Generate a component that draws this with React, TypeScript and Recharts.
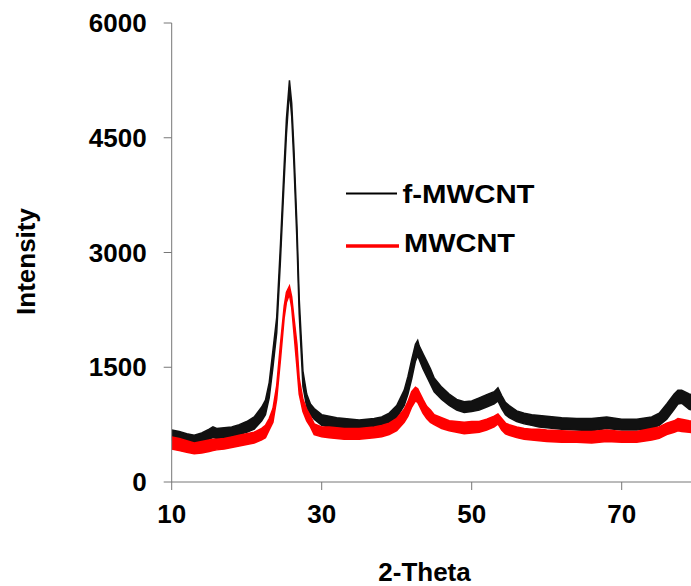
import React from 'react';
import { ComposedChart, Area, XAxis, YAxis, Label } from 'recharts';

// 2-theta positions (deg)
const twoTheta = [
  10, 11, 12, 13, 14, 15, 15.5, 16, 17, 18, 19, 20, 21, 22, 22.5, 23, 23.5, 24, 24.5, 25,
  25.3, 25.7, 26, 26.3, 26.7, 27, 27.5, 28, 28.5, 29, 30, 31, 32, 33, 34, 35, 36, 37, 38, 39,
  40, 41, 41.5, 42, 42.5, 42.8, 43, 43.5, 44, 44.5, 45, 46, 47, 48, 49, 50, 51, 52, 53, 53.5,
  54, 54.5, 55, 56, 57, 58, 59, 60, 62, 64, 66, 68, 70, 72, 74, 75, 76, 77, 77.5, 78, 79, 80,
];

// f-MWCNT: lower / upper edge of the noisy trace
const fLow = [
  550, 530, 510, 510, 530, 560, 580, 570, 580, 590, 620, 650, 690, 800, 880, 1100, 1500, 1950, 2900, 3950,
  4550, 5120, 4780, 4150, 3150, 2200, 1250, 980, 880, 820, 740, 720, 700, 690, 690, 680, 690, 700, 720, 770,
  840, 1000, 1150, 1350, 1580, 1650, 1600, 1480, 1380, 1280, 1180, 1080, 1000, 940, 910, 920, 940, 980, 1020, 1060,
  960, 880, 840, 790, 760, 740, 720, 710, 690, 680, 670, 700, 680, 680, 700, 740, 820, 950, 1020, 1030, 950, 930,
];
const fHigh = [
  680, 660, 630, 610, 640, 690, 720, 700, 710, 720, 750, 790, 850, 980, 1070, 1300, 1720, 2150, 3100, 4150,
  4750, 5250, 4950, 4350, 3350, 2400, 1450, 1150, 1020, 960, 880, 860, 840, 830, 820, 810, 820, 830, 850, 900,
  1000, 1200, 1380, 1600, 1800, 1850, 1780, 1680, 1580, 1480, 1360, 1240, 1150, 1080, 1050, 1060, 1100, 1140, 1180, 1230,
  1130, 1040, 1000, 930, 900, 880, 870, 860, 840, 830, 830, 850, 820, 820, 850, 900, 1020, 1150, 1200, 1200, 1150, 1130,
];

// MWCNT: lower / upper edge of the noisy trace
const mLow = [
  430, 410, 390, 370, 380, 400, 410, 420, 430, 450, 470, 490, 510, 550, 580, 680, 780, 1080, 1600, 2150,
  2350, 2450, 2280, 1950, 1500, 1150, 920, 800, 720, 620, 590, 580, 570, 560, 560, 560, 570, 580, 590, 620,
  670, 780, 860, 980, 1060, 1040, 1000, 900, 830, 780, 750, 700, 670, 650, 630, 640, 650, 680, 720, 760,
  680, 630, 610, 580, 560, 550, 540, 530, 520, 520, 510, 530, 520, 520, 550, 570, 620, 650, 670, 660, 650, 640,
];
const mHigh = [
  590, 570, 540, 510, 530, 550, 560, 560, 570, 590, 610, 630, 650, 700, 740, 830, 960, 1260, 1800, 2300,
  2480, 2560, 2420, 2150, 1800, 1350, 1080, 950, 860, 760, 720, 720, 710, 700, 700, 700, 710, 720, 740, 770,
  830, 950, 1050, 1180, 1240, 1220, 1180, 1080, 990, 940, 880, 840, 800, 790, 780, 790, 790, 820, 860, 890,
  830, 770, 750, 720, 700, 690, 690, 680, 670, 660, 660, 680, 660, 660, 700, 720, 770, 800, 830, 820, 800, 790,
];

const xTicks = [10, 30, 50, 70];
const yTicks = [0, 1500, 3000, 4500, 6000];
const seriesNames = ['f-MWCNT', 'MWCNT'];

const data = twoTheta.map((x, i) => ({
  x,
  f: [fLow[i], fHigh[i]],
  m: [mLow[i], mHigh[i]],
}));

const FONT = '"Liberation Sans", Arial, sans-serif';
const tickStyle = { fontFamily: FONT, fontSize: 26, fontWeight: 700, fill: '#000' };

export default function App() {
  return (
    <div
      style={{
        position: 'fixed',
        left: 0,
        top: 0,
        width: 691,
        height: 586,
        overflow: 'hidden',
        background: '#fff',
      }}
    >
      <ComposedChart width={700} height={586} data={data} margin={{ top: 23, right: 3.3, bottom: 0, left: 0 }}>
        <XAxis
          dataKey="x"
          type="number"
          domain={[10, 80]}
          ticks={xTicks}
          allowDataOverflow
          height={104}
          tickSize={8}
          tickMargin={15}
          stroke="#777"
          tick={tickStyle}
        >
          <Label
            content={() => (
              <text x={424.5} y={581} textAnchor="middle" style={tickStyle}>
                2-Theta
              </text>
            )}
          />
        </XAxis>
        <YAxis
          type="number"
          domain={[0, 6000]}
          ticks={yTicks}
          width={171.7}
          tickSize={8}
          tickMargin={17}
          stroke="#777"
          tick={tickStyle}
        >
          <Label
            content={() => (
              <text
                x={35}
                y={261.5}
                textAnchor="middle"
                transform="rotate(-90, 35, 261.5)"
                style={tickStyle}
              >
                Intensity
              </text>
            )}
          />
        </YAxis>
        <Area
          type="linear"
          dataKey="f"
          name={seriesNames[0]}
          stroke="#111"
          strokeWidth={1.5}
          fill="#111"
          fillOpacity={1}
          dot={false}
          activeDot={false}
          isAnimationActive={false}
        />
        <Area
          type="linear"
          dataKey="m"
          name={seriesNames[1]}
          stroke="#f00"
          strokeWidth={1.5}
          fill="#f00"
          fillOpacity={1}
          dot={false}
          activeDot={false}
          isAnimationActive={false}
        />
      </ComposedChart>
      <svg
        width={691}
        height={586}
        style={{ position: 'absolute', left: 0, top: 0, pointerEvents: 'none' }}
      >
        <line x1={346} x2={397} y1={193.5} y2={193.5} stroke="#000" strokeWidth={2} />
        <text x={402.5} y={203} textLength={132} lengthAdjust="spacingAndGlyphs" style={tickStyle}>
          {seriesNames[0]}
        </text>
        <line x1={346} x2={399} y1={246} y2={246} stroke="#f00" strokeWidth={3.5} />
        <text x={404} y={252} textLength={111} lengthAdjust="spacingAndGlyphs" style={tickStyle}>
          {seriesNames[1]}
        </text>
      </svg>
    </div>
  );
}
